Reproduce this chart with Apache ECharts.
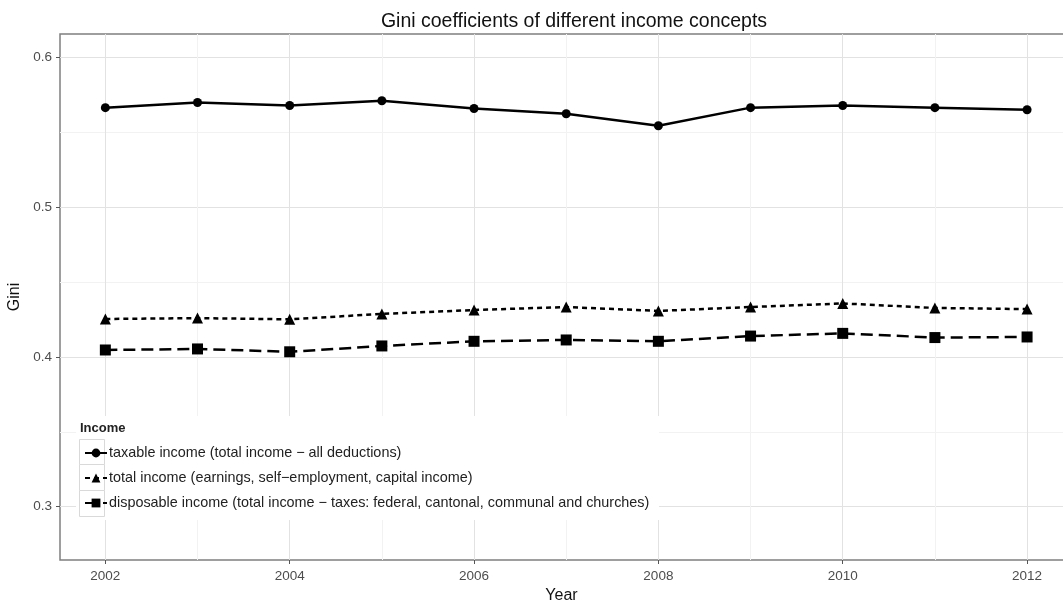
<!DOCTYPE html>
<html>
<head>
<meta charset="utf-8">
<script src="https://cdn.jsdelivr.net/npm/echarts@6/dist/echarts.min.js"></script>
<style>
  html, body { margin: 0; padding: 0; background: #fff; }
  #chart { width: 1063px; height: 602px; }
</style>
</head>
<body>
<div id="chart"></div>
<script>
  const years = [2002, 2003, 2004, 2005, 2006, 2007, 2008, 2009, 2010, 2011, 2012]
  const taxableIncome = [0.5666, 0.5700, 0.5680, 0.5712, 0.5660, 0.5625, 0.5545, 0.5666, 0.5680, 0.5666, 0.5652]
  const totalIncome = [0.4254, 0.4260, 0.4252, 0.4288, 0.4314, 0.4334, 0.4308, 0.4334, 0.4358, 0.4328, 0.4320]
  const disposableIncome = [0.4047, 0.4054, 0.4035, 0.4074, 0.4105, 0.4114, 0.4105, 0.4140, 0.4158, 0.4130, 0.4134]
  const xMajorTicks = [2002, 2004, 2006, 2008, 2010, 2012]
  const xMinorTicks = [2003, 2005, 2007, 2009, 2011]
  const yMajorTicks = [0.3, 0.4, 0.5, 0.6]
  const yMinorTicks = [0.35, 0.45, 0.55]
  const seriesNames = [
    'taxable income (total income \u2212 all deductions)',
    'total income (earnings, self\u2212employment, capital income)',
    'disposable income (total income \u2212 taxes: federal, cantonal, communal and churches)'
  ]

  const chart = echarts.init(document.getElementById('chart'))
  const font = 'Liberation Sans, Arial, sans-serif'
  const xMin = 2001.508, xMax = 2012.52
  const yMin = 0.2644, yMax = 0.6158

  const pair = v => years.map((y, i) => [y, v[i]])

  const option = {
    backgroundColor: '#fff',
    animation: false,
    title: {
      text: 'Gini coefficients of different income concepts',
      left: 569, top: 7, textAlign: 'center',
      textStyle: { fontFamily: font, fontWeight: 'normal', fontSize: 19.5, color: '#111' }
    },
    grid: {
      left: 60, top: 34, width: 1015, height: 526,
      outerBoundsMode: 'none', containLabel: false,
      show: true, borderColor: '#7f7f7f', borderWidth: 1.5, backgroundColor: '#fff'
    },
    xAxis: [
      {
        type: 'value', min: xMin, max: xMax,
        name: 'Year', nameLocation: 'middle', nameGap: 25,
        nameTextStyle: { fontFamily: font, fontSize: 16, color: '#111', padding: [0, 0, 0, -12] },
        axisLine: { show: false },
        axisTick: { show: true, length: 4, customValues: xMajorTicks, lineStyle: { color: '#555' } },
        axisLabel: { customValues: xMajorTicks, fontFamily: font, fontSize: 13.5, color: '#4d4d4d', margin: 9, formatter: v => String(v) },
        splitLine: { show: true, lineStyle: { color: '#e2e2e2', width: 1 } }
      },
      {
        type: 'value', min: xMin, max: xMax, position: 'bottom',
        axisLine: { show: false }, axisLabel: { show: false },
        axisTick: { show: false, customValues: xMinorTicks },
        splitLine: { show: true, lineStyle: { color: '#f2f2f2', width: 1 } }
      }
    ],
    yAxis: [
      {
        type: 'value', min: yMin, max: yMax,
        name: 'Gini', nameLocation: 'middle', nameGap: 34,
        nameTextStyle: { fontFamily: font, fontSize: 16, color: '#111' },
        axisLine: { show: false },
        axisTick: { show: true, length: 4, customValues: yMajorTicks, lineStyle: { color: '#555' } },
        axisLabel: { customValues: yMajorTicks, fontFamily: font, fontSize: 13.5, color: '#4d4d4d', margin: 8, formatter: v => v.toFixed(1) },
        splitLine: { show: true, lineStyle: { color: '#e2e2e2', width: 1 } }
      },
      {
        type: 'value', min: yMin, max: yMax, position: 'left',
        axisLine: { show: false }, axisLabel: { show: false },
        axisTick: { show: false, customValues: yMinorTicks },
        splitLine: { show: true, lineStyle: { color: '#f2f2f2', width: 1 } }
      }
    ],
    legend: {
      orient: 'vertical', left: 79, top: 441, itemGap: 11,
      itemWidth: 22, itemHeight: 11,
      data: seriesNames,
      textStyle: { fontFamily: font, fontSize: 14.4, color: '#222', padding: [0, 0, 0, -3] },
      z: 20
    },
    graphic: [
      { type: 'rect', left: 76, top: 416, shape: { width: 583, height: 104 }, style: { fill: '#fff' }, z: 10 },
      { type: 'text', left: 80, top: 422, style: { text: 'Income', font: 'bold 13px ' + font, fill: '#222' }, z: 11 },
      { type: 'rect', left: 79, top: 439, shape: { width: 25, height: 25 }, style: { fill: '#fff', stroke: '#d9d9d9', lineWidth: 1 }, z: 11 },
      { type: 'rect', left: 79, top: 464, shape: { width: 25, height: 26 }, style: { fill: '#fff', stroke: '#d9d9d9', lineWidth: 1 }, z: 11 },
      { type: 'rect', left: 79, top: 490, shape: { width: 25, height: 26 }, style: { fill: '#fff', stroke: '#d9d9d9', lineWidth: 1 }, z: 11 }
    ],
    series: [
      {
        name: seriesNames[0], type: 'line', data: pair(taxableIncome),
        symbol: 'circle', symbolSize: 9,
        lineStyle: { color: '#000', width: 2.5, type: 'solid' },
        itemStyle: { color: '#000' }
      },
      {
        name: seriesNames[1], type: 'line', data: pair(totalIncome),
        symbol: 'triangle', symbolSize: 11,
        lineStyle: { color: '#000', width: 2.5, type: [5, 4] },
        itemStyle: { color: '#000' }
      },
      {
        name: seriesNames[2], type: 'line', data: pair(disposableIncome),
        symbol: 'rect', symbolSize: 11,
        lineStyle: { color: '#000', width: 2.5, type: [12, 6] },
        itemStyle: { color: '#000' }
      }
    ]
  }

  chart.setOption(option)
</script>
</body>
</html>
